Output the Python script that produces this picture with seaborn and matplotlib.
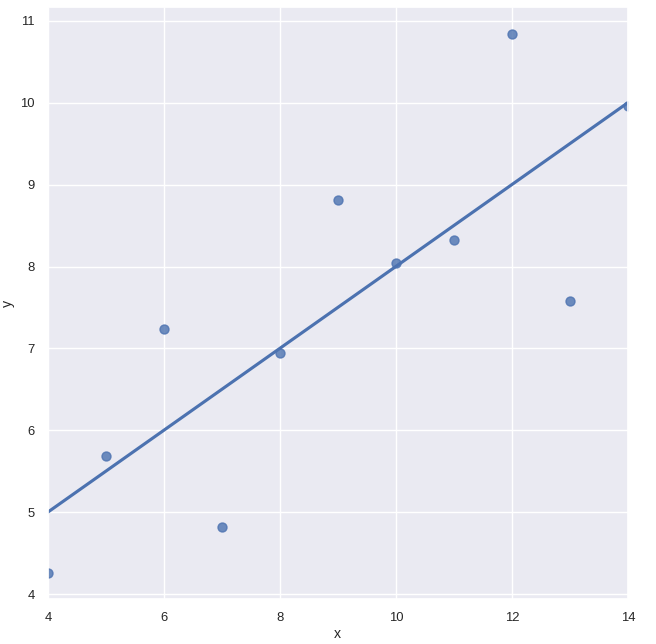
import matplotlib
matplotlib.use("Agg")
import matplotlib.pyplot as plt
import seaborn as sns
import pandas as pd

sns.set_theme(style="darkgrid", font_scale=0.85)
plt.rcParams['font.family'] = ['Liberation Sans', 'DejaVu Sans']

# Anscombe dataset I
x_vals = [10, 8, 13, 9, 11, 14, 6, 4, 12, 7, 5]
y_vals = [8.04, 6.95, 7.58, 8.81, 8.33, 9.96, 7.24, 4.26, 10.84, 4.82, 5.68]
df = pd.DataFrame({"x": x_vals, "y": y_vals})

fig, ax = plt.subplots(figsize=(6.56, 6.44), dpi=100)
sns.regplot(data=df, x="x", y="y", ci=None, ax=ax, scatter_kws={"s": 42})
ax.set_xlim(4, 14)
ax.set_ylim(3.94, 11.17)
ax.xaxis.labelpad = 2
ax.yaxis.labelpad = 4
fig.subplots_adjust(left=0.073, right=0.957, bottom=0.070, top=0.989)
fig.savefig("out.png", dpi=100)
plt.close(fig)
